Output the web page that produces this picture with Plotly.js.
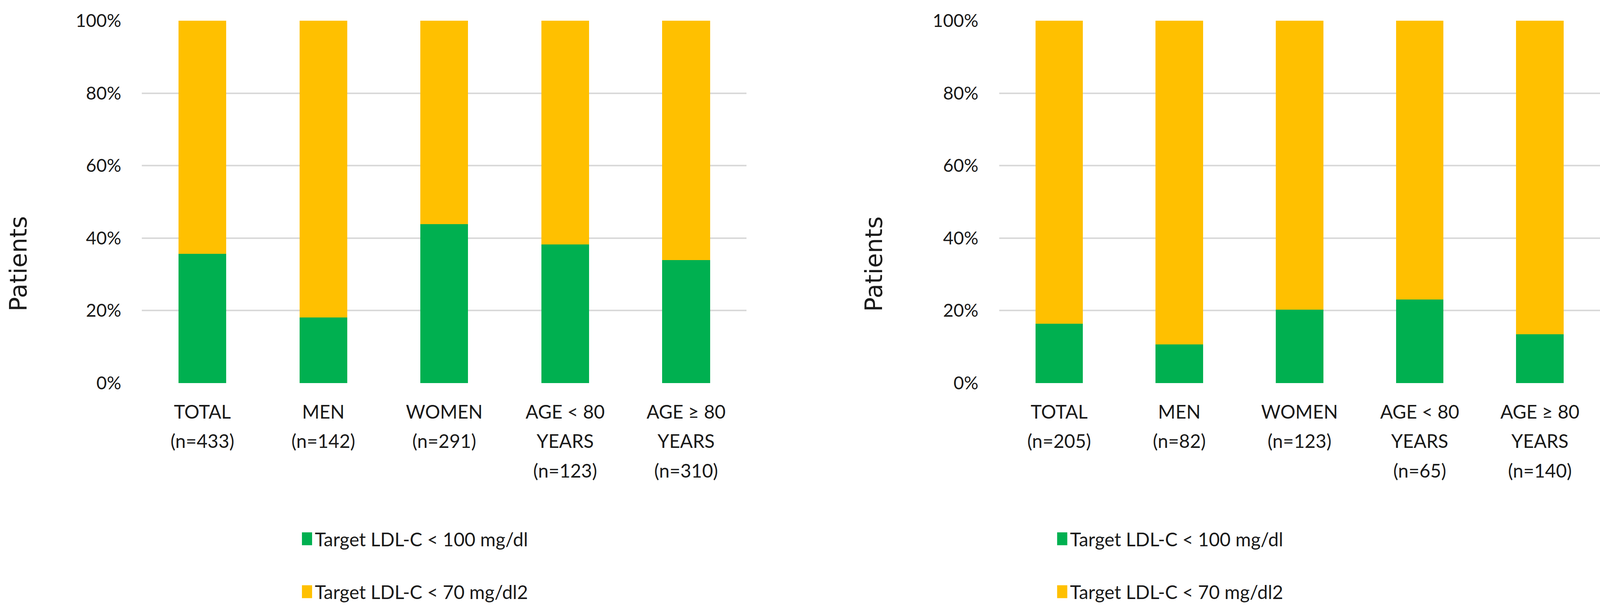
<!DOCTYPE html>
<html>
<head>
<meta charset="utf-8">
<script src="https://cdn.plot.ly/plotly-3.0.1.min.js"></script>
<style>
  html, body { margin: 0; padding: 0; background: #fff; overflow: hidden; }
  #myDiv { width: 100vw; height: 100vh; }
</style>
</head>
<body>
<div id="myDiv"></div>
<script>
// Categorías (izquierda y derecha)
const categoriasIzq = [
  "TOTAL<br>(n=433)",
  "MEN<br>(n=142)",
  "WOMEN<br>(n=291)",
  "AGE &lt; 80<br>YEARS<br>(n=123)",
  "AGE ≥ 80<br>YEARS<br>(n=310)"
];
const categoriasDer = [
  "TOTAL<br>(n=205)",
  "MEN<br>(n=82)",
  "WOMEN<br>(n=123)",
  "AGE &lt; 80<br>YEARS<br>(n=65)",
  "AGE ≥ 80<br>YEARS<br>(n=140)"
];

// Porcentajes
const verdeIzq    = [35.7, 18.1, 43.9, 38.2, 33.9];
const amarilloIzq = [64.3, 81.9, 56.1, 61.8, 66.1];
const verdeDer    = [16.4, 10.7, 20.2, 23.1, 13.5];
const amarilloDer = [83.6, 89.3, 79.8, 76.9, 86.5];

const nombres = ["Target LDL-C &lt; 100 mg/dl", "Target LDL-C &lt; 70 mg/dl2"];
const yTicks = [0, 20, 40, 60, 80, 100];
const yTickText = ["0%", "20%", "40%", "60%", "80%", "100%"];

const VERDE = "#00B050";
const AMARILLO = "#FFC000";
const fuente = "Lato, Roboto, Liberation Sans, sans-serif";

// la ventana real puede ser más estrecha que 4222
const ancho = window.innerWidth || 4222;
const alto = window.innerHeight || 1557;

// texto de las categorías más pequeño que el interlineado (como en Excel)
function etiquetas(cats) {
  return cats.map(c => c.split("<br>")
    .map(l => '<span style="font-size:48px">' + l + "</span>").join("<br>"));
}

const data = [
  { x: categoriasIzq, y: verdeIzq, type: "bar", name: nombres[0], marker: { color: VERDE },
    xaxis: "x", yaxis: "y", legend: "legend", legendgroup: "a" },
  { x: categoriasIzq, y: amarilloIzq, type: "bar", name: nombres[1], marker: { color: AMARILLO },
    xaxis: "x", yaxis: "y", legend: "legend", legendgroup: "b" },
  { x: categoriasDer, y: verdeDer, type: "bar", name: nombres[0], marker: { color: VERDE },
    xaxis: "x2", yaxis: "y2", legend: "legend2", legendgroup: "c" },
  { x: categoriasDer, y: amarilloDer, type: "bar", name: nombres[1], marker: { color: AMARILLO },
    xaxis: "x2", yaxis: "y2", legend: "legend2", legendgroup: "d" }
];

const ejeY = {
  range: [0, 100],
  tickmode: "array",
  tickvals: yTicks,
  ticktext: yTickText,
  showgrid: true,
  gridcolor: "#d9d9d9",
  gridwidth: 4,
  zeroline: false,
  showline: false,
  ticks: "",
  ticklabelstandoff: 52,
  tickfont: { size: 46, color: "#1a1a1a", family: fuente },
  domain: [0.370, 0.966],
  fixedrange: true
};
const ejeX = {
  type: "category",
  tickmode: "array",
  showgrid: false,
  zeroline: false,
  showline: false,
  ticks: "",
  tickangle: 0,
  ticklabelstandoff: 32,
  tickfont: { size: 58, color: "#1a1a1a", family: fuente },
  fixedrange: true
};

const leyenda = {
  orientation: "v",
  traceorder: "grouped",
  tracegroupgap: 70,
  font: { size: 48, color: "#1a1a1a", family: fuente },
  bgcolor: "rgba(0,0,0,0)",
  xanchor: "left",
  yanchor: "top",
  itemclick: false
};

const layout = {
  width: ancho,
  height: alto,
  margin: { l: 0, r: 0, t: 0, b: 0 },
  paper_bgcolor: "#fff",
  plot_bgcolor: "#fff",
  barmode: "stack",
  bargap: 0.605,
  showlegend: true,
  xaxis: Object.assign({}, ejeX, { domain: [0.0887, 0.4666], anchor: "y",
    tickvals: categoriasIzq, ticktext: etiquetas(categoriasIzq) }),
  yaxis: Object.assign({}, ejeY, { anchor: "x" }),
  xaxis2: Object.assign({}, ejeX, { domain: [0.6244, 1.0], anchor: "y2",
    tickvals: categoriasDer, ticktext: etiquetas(categoriasDer) }),
  yaxis2: Object.assign({}, ejeY, { anchor: "x2" }),
  legend: Object.assign({}, leyenda, { x: 0.187, y: 0.138 }),
  legend2: Object.assign({}, leyenda, { x: 0.659, y: 0.138 }),
  annotations: [
    {
      xref: "paper", yref: "paper", x: 0.0114, y: 0.566, xanchor: "center", yanchor: "middle",
      text: "Patients", textangle: -90, showarrow: false,
      font: { size: 61, color: "#1a1a1a", family: "DejaVu Sans, Verdana, sans-serif" }
    },
    {
      xref: "paper", yref: "paper", x: 0.546, y: 0.566, xanchor: "center", yanchor: "middle",
      text: "Patients", textangle: -90, showarrow: false,
      font: { size: 61, color: "#1a1a1a", family: "DejaVu Sans, Verdana, sans-serif" }
    }
  ]
};

Plotly.newPlot("myDiv", data, layout, { displayModeBar: false, staticPlot: true }).then(function (gd) {
  // cuadrado de leyenda más grande, como en el original
  gd.querySelectorAll(".legendpoints path").forEach(function (p) {
    p.setAttribute("d", "M13,16.5H-13V-16.5H13Z");
  });
});
</script>
</body>
</html>
